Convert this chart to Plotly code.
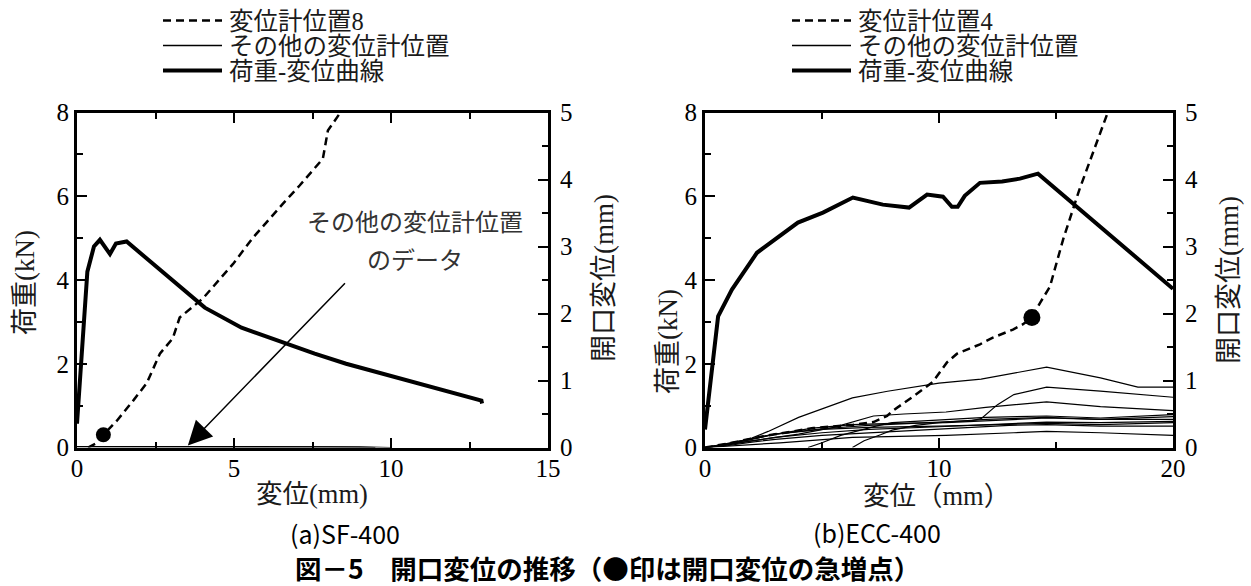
import plotly.graph_objects as go

# ---------------- data : (a) SF-400 ----------------
sf_load_x = [0.0, 0.17, 0.33, 0.54, 0.73, 1.05, 1.24, 1.58, 2.74, 4.07, 5.24, 6.77, 7.57, 8.57, 9.95, 10.9, 11.86, 12.88, 12.9]
sf_load_y = [0.57, 2.6, 4.2, 4.8, 4.96, 4.62, 4.87, 4.92, 4.18, 3.34, 2.86, 2.44, 2.24, 2.0, 1.72, 1.52, 1.31, 1.12, 1.05]

sf_gauge8_x = [0.35, 0.6, 0.84, 1.27, 1.79, 2.22, 2.64, 3.05, 3.27, 4.0, 4.97, 5.6, 6.56, 7.09, 7.83, 7.99, 8.36]
sf_gauge8_y = [0.0, 0.06, 0.19, 0.40, 0.70, 0.96, 1.40, 1.63, 1.94, 2.22, 2.74, 3.13, 3.64, 3.91, 4.31, 4.73, 4.98]

sf_other_x = [[0.0, 3.0, 6.0, 9.0, 10.0], [0.0, 3.0, 6.0, 8.0, 9.5]]
sf_other_y = [[0.015, 0.015, 0.015, 0.01, 0.0], [0.008, 0.01, 0.008, 0.006, 0.0]]

sf_jump_x = [0.84]
sf_jump_y = [0.19]

# ---------------- data : (b) ECC-400 ----------------
ecc_load_x = [0.0, 0.3, 0.56, 1.15, 2.22, 3.97, 5.04, 6.32, 7.6, 8.72, 9.49, 10.17, 10.55, 10.8, 11.1, 11.75, 12.7, 13.46, 14.23, 20.0]
ecc_load_y = [0.43, 1.9, 3.13, 3.77, 4.65, 5.37, 5.61, 5.97, 5.8, 5.73, 6.04, 5.99, 5.75, 5.75, 6.01, 6.32, 6.35, 6.42, 6.54, 3.79]

ecc_gauge4_x = [0.0, 1.0, 2.5, 4.63, 6.34, 7.2, 7.78, 8.03, 8.89, 9.74, 10.34, 10.77, 11.75, 12.3, 13.16, 13.59, 13.97, 14.32, 14.74, 15.3, 16.0, 16.8, 17.18]
ecc_gauge4_y = [0.0, 0.06, 0.17, 0.29, 0.34, 0.38, 0.47, 0.55, 0.76, 0.98, 1.27, 1.40, 1.54, 1.64, 1.76, 1.84, 1.94, 2.16, 2.40, 3.10, 3.85, 4.63, 4.97]

ecc_other_x = [
    [0, 1, 2, 2.7, 4, 5, 6.3, 7.8, 10, 11.8, 13.2, 14.6, 16.9, 18.5, 20],
    [0, 1, 2, 3, 5, 7, 9, 10.5, 11.4, 11.8, 12.5, 13.2, 14.6, 16.9, 20],
    [0, 1, 2, 4, 5.5, 7.2, 8.5, 10.3, 12, 13.2, 14.6, 16.9, 20],
    [4.4, 5, 5.8, 6.5, 7.3, 8, 10, 12, 14.6, 16.9, 20],
    [6.3, 6.8, 7.5, 8, 9, 10, 12, 14.6, 16.9, 20],
    [0, 1, 2.5, 4.6, 6.3, 8, 10.3, 13.2, 14.6, 16.9, 20],
    [0, 1, 2, 3, 5, 7, 10, 13, 14.6, 16.9, 20],
    [0, 1, 2, 3, 5, 7, 10, 13, 14.6, 16.9, 20],
    [0, 1, 2, 3, 5, 7, 10, 13, 14.6, 16.9, 20],
    [0, 1, 3.2, 6.3, 10.3, 13.2, 14.6, 16.9, 20],
]
ecc_other_y = [
    [0, 0.05, 0.14, 0.24, 0.45, 0.58, 0.74, 0.84, 0.96, 1.02, 1.11, 1.20, 1.04, 0.90, 0.90],
    [0, 0.06, 0.13, 0.20, 0.28, 0.33, 0.36, 0.38, 0.40, 0.43, 0.64, 0.79, 0.90, 0.84, 0.75],
    [0, 0.05, 0.10, 0.20, 0.30, 0.47, 0.50, 0.53, 0.60, 0.64, 0.68, 0.61, 0.55],
    [0, 0.07, 0.18, 0.25, 0.32, 0.37, 0.41, 0.45, 0.47, 0.44, 0.49],
    [0, 0.10, 0.19, 0.26, 0.33, 0.37, 0.42, 0.45, 0.42, 0.46],
    [0, 0.06, 0.17, 0.29, 0.34, 0.36, 0.37, 0.42, 0.44, 0.42, 0.42],
    [0, 0.04, 0.10, 0.15, 0.22, 0.27, 0.31, 0.36, 0.38, 0.37, 0.39],
    [0, 0.05, 0.12, 0.20, 0.27, 0.30, 0.32, 0.35, 0.36, 0.34, 0.37],
    [0, 0.03, 0.08, 0.12, 0.18, 0.22, 0.28, 0.33, 0.34, 0.32, 0.32],
    [0, 0.02, 0.07, 0.15, 0.18, 0.22, 0.24, 0.22, 0.18],
]

ecc_jump_x = [13.97]
ecc_jump_y = [1.94]

# ---------------- text ----------------
legend_a = ["変位計位置8", "その他の変位計位置", "荷重-変位曲線"]
legend_b = ["変位計位置4", "その他の変位計位置", "荷重-変位曲線"]
xtitle_a = "変位(mm)"
xtitle_b = "変位（mm）"
ytitle_load = "荷重(kN)"
ytitle_open = "開口変位(mm)"
caption_a = "(a)SF-400"
caption_b = "(b)ECC-400"
caption_main = "図－5　開口変位の推移（●印は開口変位の急増点）"
note_text = ["その他の変位計位置", "のデータ"]

# ---------------- geometry helpers (page body margin removed below) ----------------
FW, FH = 1251, 586


def PX(p):
    return p / FW


def PY(p):
    return 1 - p / FH


SERIF = "Liberation Serif, Noto Sans CJK JP, serif"
GOTHIC = "Noto Sans CJK JP, sans-serif"
TXT = "#1a1a1a"

THICK = dict(color="black", width=4)
DASH = dict(color="black", width=2.5, dash="8px,5px")
THIN = dict(color="black", width=1.2)

fig = go.Figure()

# (a) traces
for xs, ys in zip(sf_other_x, sf_other_y):
    fig.add_trace(go.Scatter(x=xs, y=ys, mode="lines", line=THIN, xaxis="x", yaxis="y2",
                             name=legend_a[1], showlegend=False))
fig.add_trace(go.Scatter(x=sf_gauge8_x, y=sf_gauge8_y, mode="lines", line=DASH,
                         xaxis="x", yaxis="y2", name=legend_a[0], showlegend=False))
fig.add_trace(go.Scatter(x=sf_load_x, y=sf_load_y, mode="lines", line=THICK,
                         xaxis="x", yaxis="y", name=legend_a[2], showlegend=False))
fig.add_trace(go.Scatter(x=sf_jump_x, y=sf_jump_y, mode="markers",
                         marker=dict(color="black", size=15), xaxis="x", yaxis="y2",
                         name="急増点", showlegend=False))

# (b) traces
for xs, ys in zip(ecc_other_x, ecc_other_y):
    fig.add_trace(go.Scatter(x=xs, y=ys, mode="lines", line=THIN, xaxis="x2", yaxis="y4",
                             name=legend_b[1], showlegend=False))
fig.add_trace(go.Scatter(x=ecc_gauge4_x, y=ecc_gauge4_y, mode="lines", line=DASH,
                         xaxis="x2", yaxis="y4", name=legend_b[0], showlegend=False))
fig.add_trace(go.Scatter(x=ecc_load_x, y=ecc_load_y, mode="lines", line=THICK,
                         xaxis="x2", yaxis="y3", name=legend_b[2], showlegend=False))
fig.add_trace(go.Scatter(x=ecc_jump_x, y=ecc_jump_y, mode="markers",
                         marker=dict(color="black", size=17), xaxis="x2", yaxis="y4",
                         name="急増点", showlegend=False))

tickfont = dict(family="Liberation Serif, serif", size=25, color="black")


def ax(**kw):
    d = dict(showline=True, linewidth=3, linecolor="black", ticks="inside", ticklen=10,
             tickwidth=1.5, tickcolor="black", showgrid=False, zeroline=False,
             tickfont=tickfont, fixedrange=True, automargin=False)
    d.update(kw)
    return d


def minor(dt):
    return dict(ticks="inside", ticklen=6, dtick=dt, tickwidth=1.5, tickcolor="black", showgrid=False)


ydom = [PY(447.5), PY(112.5)]

fig.update_layout(
    template="none",
    width=FW, height=FH,
    margin=dict(l=0, r=0, t=0, b=0, pad=0, autoexpand=False),
    font=dict(family=SERIF, size=25, color="black"),
    paper_bgcolor="white", plot_bgcolor="white",
    showlegend=False,
    xaxis=ax(domain=[PX(77), PX(548)], range=[0, 15], tick0=0, dtick=5, minor=minor(2.5),
             mirror="ticks", anchor="y", ticklabelstandoff=-4),
    yaxis=ax(domain=ydom, range=[0, 8], tick0=0, dtick=2, minor=minor(1), anchor="x"),
    yaxis2=ax(overlaying="y", side="right", anchor="x", range=[0, 5], tick0=0, dtick=1,
              minor=minor(0.5), ticklabelstandoff=4),
    xaxis2=ax(domain=[PX(705), PX(1173)], range=[0, 20], tick0=0, dtick=10, minor=minor(5),
              mirror="ticks", anchor="y3", ticklabelstandoff=-4),
    yaxis3=ax(domain=ydom, range=[0, 8], tick0=0, dtick=2, minor=minor(1), anchor="x2"),
    yaxis4=ax(overlaying="y3", side="right", anchor="x2", range=[0, 5], tick0=0, dtick=1,
              minor=minor(0.5), ticklabelstandoff=4),
)

shapes = []
annos = []


def label(text, x, y, size=27, angle=0, font=SERIF, color=TXT, **kw):
    d = dict(text=text, xref="paper", yref="paper", x=PX(x), y=PY(y), textangle=angle,
             showarrow=False, xanchor="center", yanchor="middle",
             font=dict(family=font, size=size, color=color))
    d.update(kw)
    annos.append(d)


# manual legends: sample lines + one multi-line label block per panel
rows_y = [20.5, 45.5, 70.5]
styles = [DASH, dict(color="black", width=1.5), THICK]
for x0, labels in ((163, legend_a), (792, legend_b)):
    for yy, st in zip(rows_y, styles):
        shapes.append(dict(type="line", xref="paper", yref="paper",
                           x0=PX(x0), x1=PX(x0 + 59), y0=PY(yy), y1=PY(yy), line=st))
    block = "<br>".join('<span style="font-size:24.5px">%s</span>' % s for s in labels)
    label(block, x0 + 64, 46.5, size=19.3, xanchor="left", align="left")

# axis titles
label(xtitle_a, 312, 494, size=26.5)
label(xtitle_b, 936, 496, size=26.5)
label(ytitle_load, 25, 282, angle=-90)
label(ytitle_open, 604, 278, angle=-90)
label(ytitle_load, 668, 342, angle=-90)
label(ytitle_open, 1229, 280, angle=-90)

# note + arrow in panel (a)
annos.append(dict(text=note_text[0], xref="x", yref="y", x=10.75, y=5.37, showarrow=False,
                  font=dict(family=SERIF, size=24, color="#333")))
annos.append(dict(text=note_text[1], xref="x", yref="y", x=10.75, y=4.46, showarrow=False,
                  font=dict(family=SERIF, size=24, color="#333")))
annos.append(dict(text="", xref="x", yref="y", x=3.53, y=0.05, axref="x", ayref="y",
                  ax=8.58, ay=3.96, showarrow=True, arrowhead=2, arrowsize=3.2,
                  arrowwidth=1.5, arrowcolor="black"))

# captions
label(caption_a, 345, 533, size=25, font=GOTHIC, color="black")
label(caption_b, 877, 532, size=25, font=GOTHIC, color="black")
label("<b>" + caption_main + "</b>", 607, 567, size=26.5, font=GOTHIC, color="black")

fig.update_layout(shapes=shapes, annotations=annos)

fig.write_html("out.html", config={"displayModeBar": False},
               post_script="document.body.style.margin='0';")
